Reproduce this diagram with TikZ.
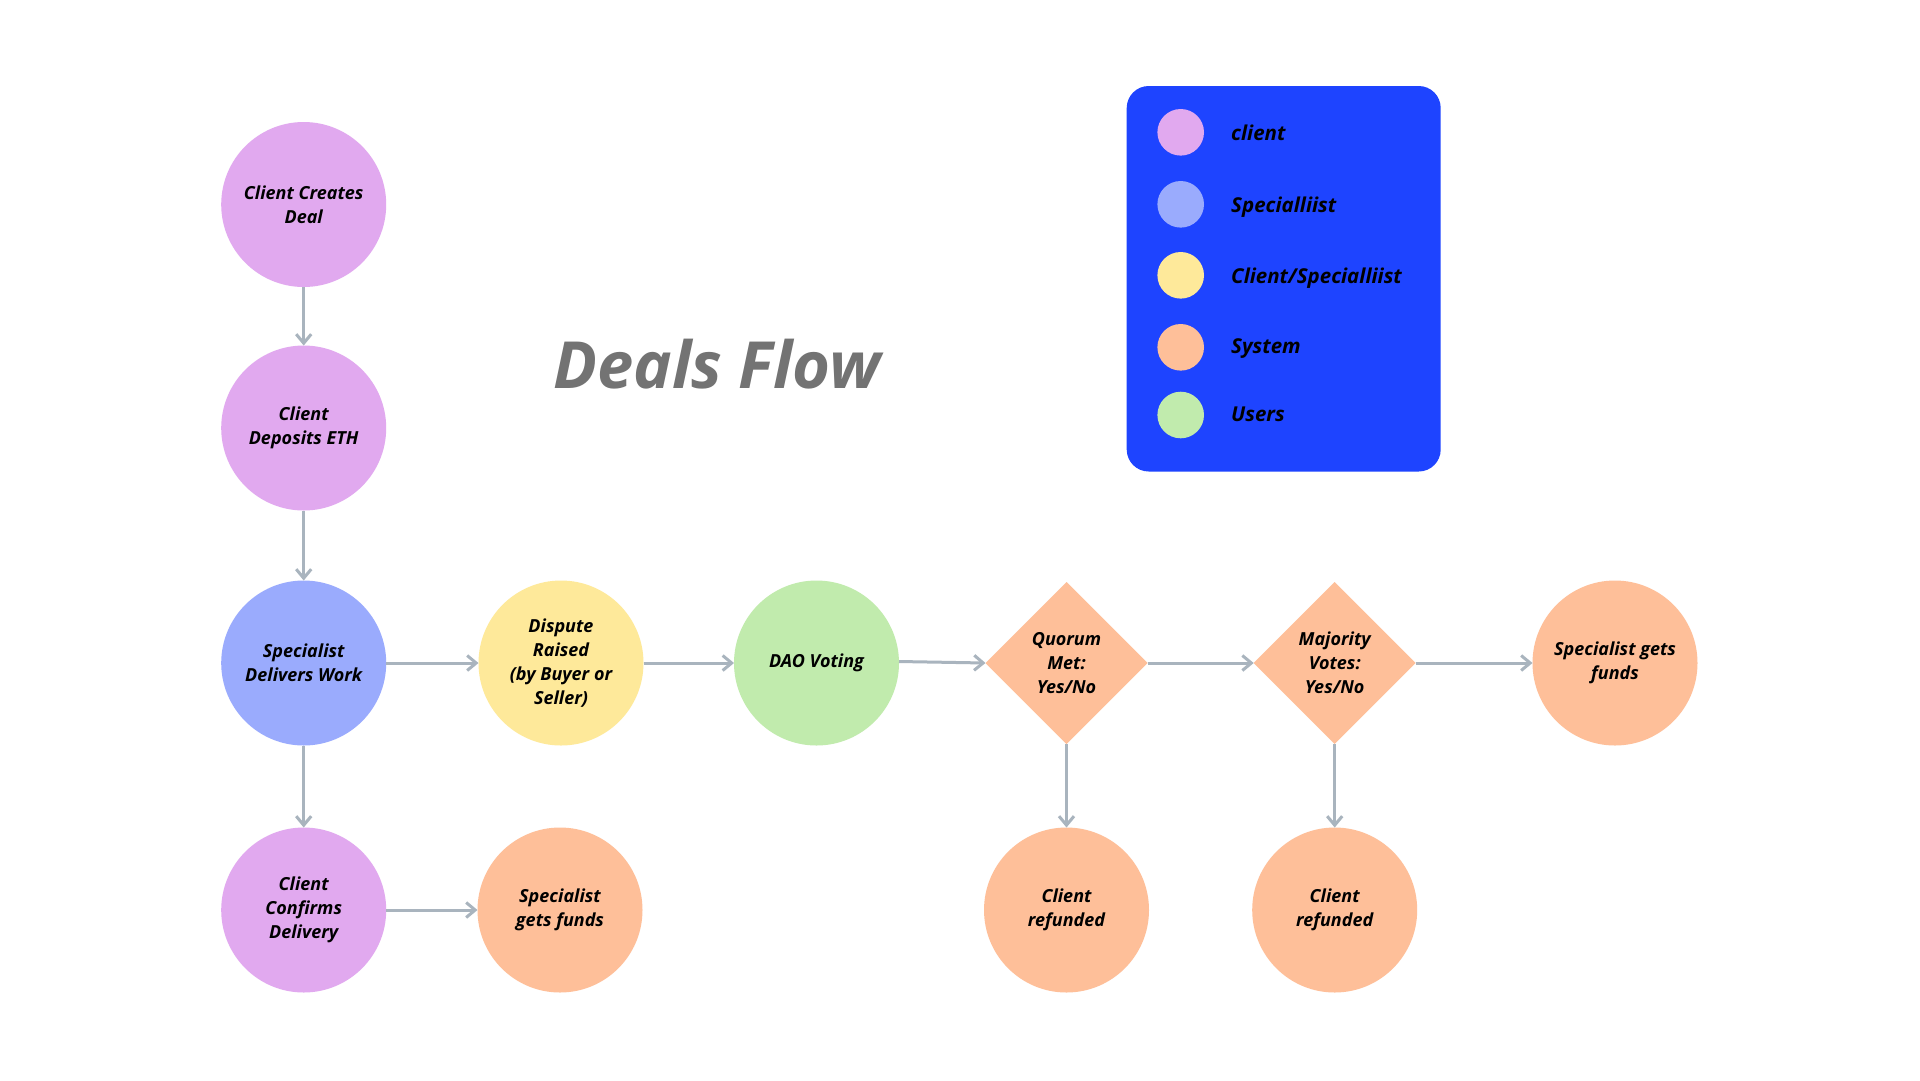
\documentclass[tikz,border=0pt]{standalone}
\usepackage{fontspec}
\setmainfont{Open Sans}
\usetikzlibrary{shapes.geometric,arrows.meta}
\definecolor{cpink}{HTML}{E1A9EF}
\definecolor{cblue}{HTML}{9AABFD}
\definecolor{cyellow}{HTML}{FEE99A}
\definecolor{corange}{HTML}{FEBF99}
\definecolor{cgreen}{HTML}{C1EBAD}
\definecolor{legendbg}{HTML}{1E44FF}
\definecolor{arrowc}{HTML}{A9B4BE}
\definecolor{titlec}{HTML}{737373}
\newcommand\dfnodefont{\fontsize{18}{24}\selectfont\bfseries\itshape}
\newcommand\dflegfont{\fontsize{20.5}{25}\selectfont\bfseries\itshape}
\begin{document}
\begin{tikzpicture}[x=1pt,y=-1pt,
  flownode/.style={circle, minimum size=165pt, inner sep=0pt, outer sep=0pt, align=center, font=\dfnodefont, text=black},
  decision/.style={diamond, aspect=1, minimum width=162pt, minimum height=162pt, inner sep=0pt, outer sep=0pt, fill=corange, align=center, font=\dfnodefont, text=black},
  flow/.style={draw=arrowc, line width=3pt, -{Straight Barb[length=9pt,width=15pt]}},
  legdot/.style={circle, minimum size=46.6pt, inner sep=0pt},
  legtext/.style={anchor=base west, font=\dflegfont, text=black, inner sep=0pt}
]
\useasboundingbox (0,0) rectangle (1920,1080);
\fill[white] (0,0) rectangle (1920,1080);

% title
\node[anchor=base west, inner sep=0pt, text=titlec, font=\fontsize{65}{72}\selectfont\bfseries\itshape] (title) at (553,388) {Deals Flow};

% legend
\fill[legendbg, rounded corners=22pt] (1126.7,86) rectangle (1440.7,471.5);
\node[legdot, fill=cpink] (l1) at (1180.7,132.3) {};
\node[legdot, fill=cblue] (l2) at (1180.7,204.3) {};
\node[legdot, fill=cyellow] (l3) at (1180.7,275.3) {};
\node[legdot, fill=corange] (l4) at (1180.7,347.3) {};
\node[legdot, fill=cgreen] (l5) at (1180.7,415) {};
\node[legtext] (t1) at (1231,140) {client};
\node[legtext] (t2) at (1231,212) {Specialliist};
\node[legtext] (t3) at (1231,283) {Client/Specialliist};
\node[legtext] (t4) at (1231,353) {System};
\node[legtext] (t5) at (1231,421) {Users};

% flow nodes
\node[flownode, fill=cpink] (c1) at (303.7,204.5) {Client Creates\\Deal};
\node[flownode, fill=cpink] (c2) at (303.7,428) {Client\\Deposits ETH};
\node[flownode, fill=cblue] (c3) at (303.7,663) {Specialist\\Delivers Work};
\node[flownode, fill=cpink] (c4) at (303.7,910) {Client\\Confirms\\Delivery};
\node[flownode, fill=corange] (f1) at (560,910) {Specialist\\gets funds};
\node[flownode, fill=cyellow] (d) at (561,663) {Dispute\\Raised\\(by Buyer or\\Seller)};
\node[flownode, fill=cgreen] (dao) at (816.5,663) {DAO Voting};
\node[decision] (q) at (1066.5,663) {Quorum\\Met:\\Yes/No};
\node[decision] (m) at (1334.7,663) {Majority\\Votes:\\Yes/No};
\node[flownode, fill=corange] (f2) at (1615,663) {Specialist gets\\funds};
\node[flownode, fill=corange] (r1) at (1066.5,910) {Client\\refunded};
\node[flownode, fill=corange] (r2) at (1334.7,910) {Client\\refunded};

% connectors
\draw[flow] (c1) -- (c2);
\draw[flow] (c2) -- (c3);
\draw[flow] (c3) -- (c4);
\draw[flow] (c4) -- (f1);
\draw[flow] (c3) -- (d);
\draw[flow] (d) -- (dao);
\draw[flow] ([yshift=1.5pt]dao.east) -- (q.west);
\draw[flow] (q) -- (m);
\draw[flow] (m) -- (f2);
\draw[flow] (q) -- (r1);
\draw[flow] (m) -- (r2);
\end{tikzpicture}
\end{document}
